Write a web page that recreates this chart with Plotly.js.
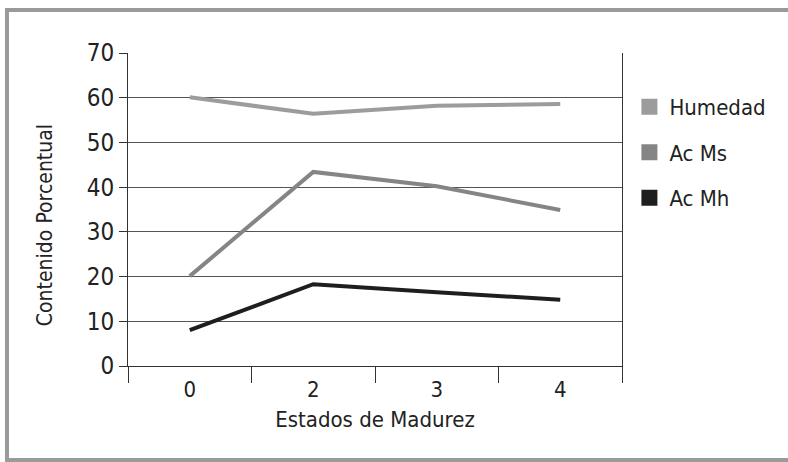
<!DOCTYPE html>
<html>
<head>
<meta charset="utf-8">
<script src="https://cdn.plot.ly/plotly-3.0.1.min.js"></script>
<style>html,body{margin:0;padding:0;background:#fff;}#chart{width:788px;height:462px;}</style>
</head>
<body>
<div id="chart"></div>
<script>
const categories = ["0", "2", "3", "4"];
const humedad = [60.1, 56.4, 58.2, 58.6];
const acMs = [20.1, 43.4, 40.2, 34.9];
const acMh = [8.0, 18.3, 16.5, 14.8];
const seriesNames = ["Humedad", "Ac Ms", "Ac Mh"];
const yTicks = [0, 10, 20, 30, 40, 50, 60, 70];
const yTitle = "Contenido Porcentual";
const xTitle = "Estados de Madurez";

const colors = ["#9c9c9c", "#858585", "#1e1e1e"];
const FONT = "'DejaVu Sans Condensed', 'Liberation Sans Narrow', sans-serif";
const seriesValues = [humedad, acMs, acMh];

const traces = [];
seriesValues.forEach((vals, i) => {
  traces.push({
    x: categories, y: vals, type: "scatter", mode: "lines",
    line: {color: colors[i], width: 4}, showlegend: false, hoverinfo: "skip"
  });
});
seriesValues.forEach((vals, i) => {
  traces.push({
    x: [null], y: [null], type: "scatter", mode: "markers", name: seriesNames[i],
    legendgroup: "g" + i,
    marker: {symbol: "square", size: 20, color: colors[i]}
  });
});

const layout = {
  width: 788, height: 462,
  margin: {l: 128, r: 166, t: 53, b: 96},
  paper_bgcolor: "#ffffff", plot_bgcolor: "#ffffff",
  font: {family: FONT, size: 20, color: "#222"},
  showlegend: true,
  legend: {
    x: 1.015, xanchor: "left", y: 0.895, yanchor: "top",
    font: {family: FONT, size: 22, color: "#222"},
    tracegroupgap: 14, itemsizing: "trace", bgcolor: "rgba(0,0,0,0)"
  },
  xaxis: {
    type: "category", categoryarray: categories,
    tickson: "boundaries", ticks: "outside", ticklen: 16, tickcolor: "#333", tickwidth: 1,
    ticklabelstandoff: 4,
    showgrid: false, showline: true, linecolor: "#333", linewidth: 1,
    tickfont: {family: FONT, size: 22, color: "#222"},
    title: {text: xTitle, font: {family: FONT, size: 22, color: "#222"}, standoff: 10},
    range: [-0.5, 3.5], fixedrange: true
  },
  yaxis: {
    range: [0, 70], tickvals: yTicks, ticks: "outside", ticklen: 8, tickcolor: "#333",
    showgrid: true, gridcolor: "#555", gridwidth: 1,
    showline: true, mirror: true, linecolor: "#333", linewidth: 1,
    zeroline: false,
    tickfont: {family: FONT, size: 24, color: "#222"},
    fixedrange: true
  },
  annotations: [
    {text: yTitle, xref: "paper", yref: "paper", x: -0.168, y: 0.45,
     xanchor: "center", yanchor: "middle", textangle: -90, showarrow: false,
     font: {family: FONT, size: 21, color: "#222"}}
  ],
  shapes: [
    {type: "rect", xref: "paper", yref: "paper", x0: -0.245, x1: 1.4, y0: -0.30, y1: 1.137,
     line: {color: "#9a9a9a", width: 4}, layer: "below"}
  ]
};

Plotly.newPlot("chart", traces, layout, {displayModeBar: false, staticPlot: true});
</script>
</body>
</html>
